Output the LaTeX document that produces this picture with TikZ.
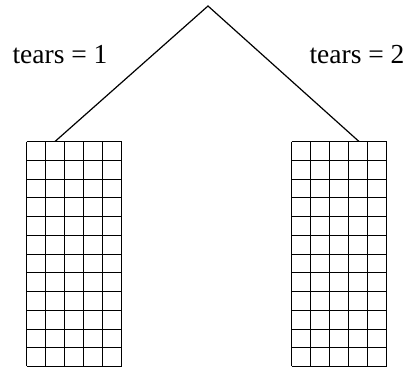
\documentclass[tikz,border=0pt]{standalone}
\usepackage{fontspec}
\setmainfont{Liberation Serif}
\begin{document}
\begin{tikzpicture}[x=1pt,y=-1pt,line width=1.2pt,
  lbl/.style={inner sep=0pt,anchor=base,font=\fontsize{27.5}{32}\selectfont},
  gridline/.style={line width=1.7pt}]
\useasboundingbox (0,0) rectangle (412,367);
\coordinate (root) at (208,6);
\coordinate (lt) at (55,141.5);
\coordinate (rt) at (359,141.5);
\draw (lt) -- (root) -- (rt);
\node[lbl] (t1) at (60,63) {tears = 1};
\node[lbl] (t2) at (357,63) {tears = 2};
\foreach \x in {26.5,291.5}{
  \foreach \i in {0,...,5}{
    \draw[gridline] ({\x+\i*19},141.5) -- ({\x+\i*19},366);
  }
  \foreach \j in {0,...,12}{
    \draw[gridline] (\x,{141.5+round(\j*18.75)}) -- ({\x+95},{141.5+round(\j*18.75)});
  }
}
\end{tikzpicture}
\end{document}
